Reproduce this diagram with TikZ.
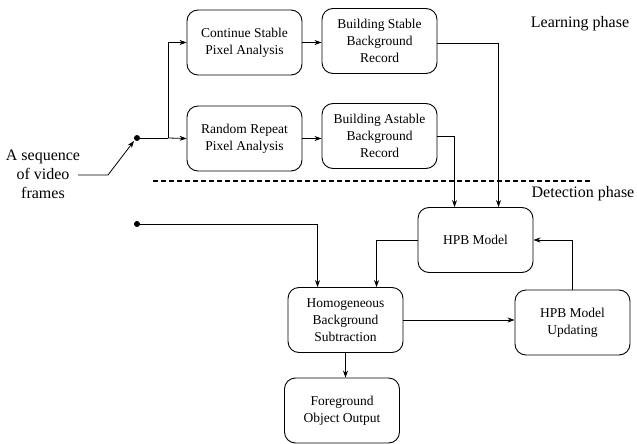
\documentclass[tikz,border=0pt]{standalone}
\usepackage{fontspec}
\setmainfont{Liberation Serif}
\usetikzlibrary{arrows.meta,calc}
\begin{document}
\begin{tikzpicture}[x=1pt,y=-1pt,
  box/.style={draw,rounded corners=11pt,line width=0.9pt,minimum width=115pt,minimum height=65pt,align=center,font=\fontsize{13.5}{17}\selectfont,inner sep=0pt},
  lbl/.style={font=\fontsize{16}{19}\selectfont,align=center,inner sep=0pt},
  conn/.style={line width=0.8pt,-{Stealth[length=7pt,width=5pt]}},
  plain/.style={line width=0.8pt}]
\useasboundingbox (0,0) rectangle (637,444);
\node[box] (cspa) at (244.5,42.5) {Continue Stable\\Pixel Analysis};
\node[box] (bsbr) at (379.5,41) {Building Stable\\Background\\Record};
\node[box] (rrpa) at (244.5,138.5) {Random Repeat\\Pixel Analysis};
\node[box] (babr) at (379.5,136) {Building Astable\\Background\\Record};
\node[box] (hpb) at (475.5,240) {HPB Model};
\node[box] (hbs) at (345.5,320) {Homogeneous\\Background\\Subtraction};
\node[box] (hpbu) at (572.5,322.5) {HPB Model\\Updating};
\node[box] (foo) at (342,410.5) {Foreground\\Object Output};
\node[lbl] (inp) at (43,174) {A sequence\\of video\\frames};
\node[lbl] (learn) at (580,24) {Learning phase};
\node[lbl] (detect) at (583,194) {Detection phase};
\coordinate (d1) at (137,138);
\coordinate (j1) at (168,138);
\coordinate (inA) at (78,175);
\coordinate (inB) at (108,175);
\coordinate (d2) at (137,224);
\coordinate (dl) at (153,181);
\coordinate (dr) at (592,181);
\fill (d1) circle (3pt);
\fill (d2) circle (3pt);
\draw[conn] (inA) -- (inB) -- ($(d1)+(-3,3)$);
\draw[plain] (d1) -- (j1);
\draw[conn] (j1) |- (cspa.west);
\draw[conn] (j1) -- (rrpa.west);
\draw[conn] (cspa.east) -- (cspa.east -| bsbr.west);
\draw[conn] (rrpa.east) -- (rrpa.east -| babr.west);
\draw[conn] ($(bsbr.east)+(0,2)$) -| ($(hpb.north west)+(81,0)$);
\draw[conn] (babr.east) -| ($(hpb.north west)+(37,0)$);
\draw[conn] (hpb.west) -| ($(hbs.north west)+(89,0)$);
\draw[conn] (d2) -| ($(hbs.north west)+(30,0)$);
\draw[conn] (hbs.east) -- (hbs.east -| hpbu.west);
\draw[conn] (hpbu.north) |- (hpb.east);
\draw[conn] (hbs.south) -- (hbs.south |- foo.north);
\draw[line width=2pt,dash pattern=on 5pt off 3pt] (dl) -- (dr);
\end{tikzpicture}
\end{document}
